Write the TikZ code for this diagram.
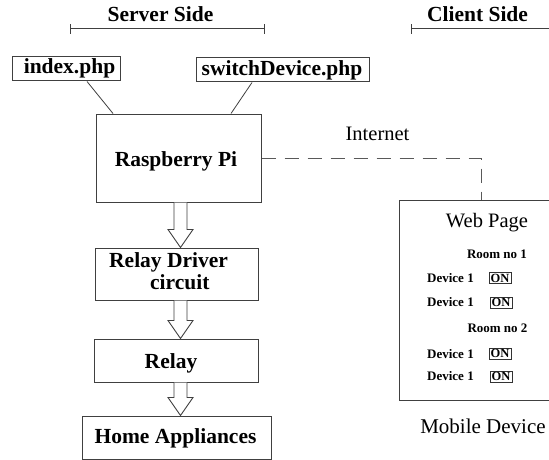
\documentclass[tikz,border=0pt]{standalone}
\usepackage{fontspec}
\setmainfont{Liberation Serif}
\usetikzlibrary{calc}
\tikzset{
  box/.style={draw=black!75, line width=1pt, inner sep=0, rectangle},
  big/.style={inner sep=0, anchor=base, font=\fontsize{21.5}{24}\selectfont\bfseries},
  reg/.style={inner sep=0, anchor=base, font=\fontsize{20.5}{23}\selectfont},
  small/.style={inner sep=0, anchor=base, font=\fontsize{13}{15}\selectfont\bfseries},
  onbox/.style={draw=black!80, line width=0.8pt, inner sep=0, minimum width=22pt, minimum height=11pt, font=\fontsize{12.5}{13}\selectfont\bfseries},
  span/.style={draw=black!75, line width=1pt},
  link/.style={draw=black!75, line width=0.8pt},
  inet/.style={draw=black!65, line width=1pt, dash pattern=on 14pt off 9pt},
  barrow/.style={draw=black!75, line width=0.9pt, fill=white},
}
\newcommand\blockarrow[2]{%
  \draw[barrow] let \p1=(#1.south), \p2=(#2.north), \p3=(axis) in
    (\x3-6.5pt,\y1) -- (\x3-6.5pt,\y2+18pt) -- (\x3-12.5pt,\y2+18pt) -- (\x3,\y2)
    -- (\x3+12.5pt,\y2+18pt) -- (\x3+6.5pt,\y2+18pt) -- (\x3+6.5pt,\y1);}
\begin{document}
\begin{tikzpicture}[x=1pt,y=-1pt]
\useasboundingbox (0,0) rectangle (549,460);
\fill[white] (0,0) rectangle (549,460);

% headings
\node[big] (server) at (160.5,22) {Server Side};
\node[big] (client) at (477.5,22) {Client Side};
\coordinate (sL) at (70,29);
\coordinate (sR) at (264,29);
\coordinate (cL) at (411,29);
\coordinate (cR) at (549,29);
\draw[span] (sL) -- (sR);
\draw[span] ([yshift=-5]sL) -- ([yshift=5]sL);
\draw[span] ([yshift=-5]sR) -- ([yshift=5]sR);
\draw[span] (cL) -- (cR);
\draw[span] ([yshift=-5]cL) -- ([yshift=5]cL);

% server boxes
\node[box, minimum width=108pt, minimum height=24pt] (index) at (66,69) {};
\node[big] (indexT) at (69.5,74) {index.php};
\node[box, minimum width=173pt, minimum height=24pt] (switch) at (282.5,70) {};
\node[big] (switchT) at (282,75) {switchDevice.php};
\node[box, minimum width=165pt, minimum height=88pt] (rpi) at (178.5,158) {};
\node[big] (rpiT) at (176,166.7) {Raspberry Pi};
\node[box, minimum width=163pt, minimum height=52pt] (driver) at (176.5,274) {};
\node[big, anchor=base west] (driverT1) at (109,267) {Relay Driver};
\node[big, anchor=base west] (driverT2) at (150,289) {circuit};
\node[box, minimum width=164pt, minimum height=43pt] (relay) at (176,360.5) {};
\node[big] (relayT) at (171,368) {Relay};
\node[box, minimum width=189pt, minimum height=43pt] (home) at (176.5,437.5) {};
\node[big] (homeT) at (175.5,443) {Home Appliances};

% php links
\draw[link] ([xshift=21]index.south) -- ([xshift=-65.5]rpi.north);
\draw[link] ([xshift=-30.5]switch.south) -- ([xshift=52.5]rpi.north);

% block arrows
\coordinate (axis) at (180.5,0);
\blockarrow{rpi}{driver}
\blockarrow{driver}{relay}
\blockarrow{relay}{home}

% client side
\node[box, minimum width=150pt, minimum height=200pt] (web) at (474,300) {};
\draw[inet] (rpi.east) -| ([xshift=7]web.north);
\node[reg] (inetT) at (377.5,140) {Internet};
\node[reg] (webT) at (487,227) {Web Page};
\node[small] (room1) at (497,258.5) {Room no 1};
\node[small, anchor=base west] (d1) at (427,282) {Device 1};
\node[onbox] (on1) at (500,278) {ON};
\node[small, anchor=base west] (d2) at (427,306) {Device 1};
\node[onbox] (on2) at (501,302.5) {ON};
\node[small] (room2) at (497.5,332) {Room no 2};
\node[small, anchor=base west] (d3) at (427,358) {Device 1};
\node[onbox] (on3) at (500,353.5) {ON};
\node[small, anchor=base west] (d4) at (427,380) {Device 1};
\node[onbox] (on4) at (501,376.5) {ON};
\node[reg, font=\fontsize{21}{24}\selectfont] (mobile) at (483,433) {Mobile Device};
\end{tikzpicture}
\end{document}
